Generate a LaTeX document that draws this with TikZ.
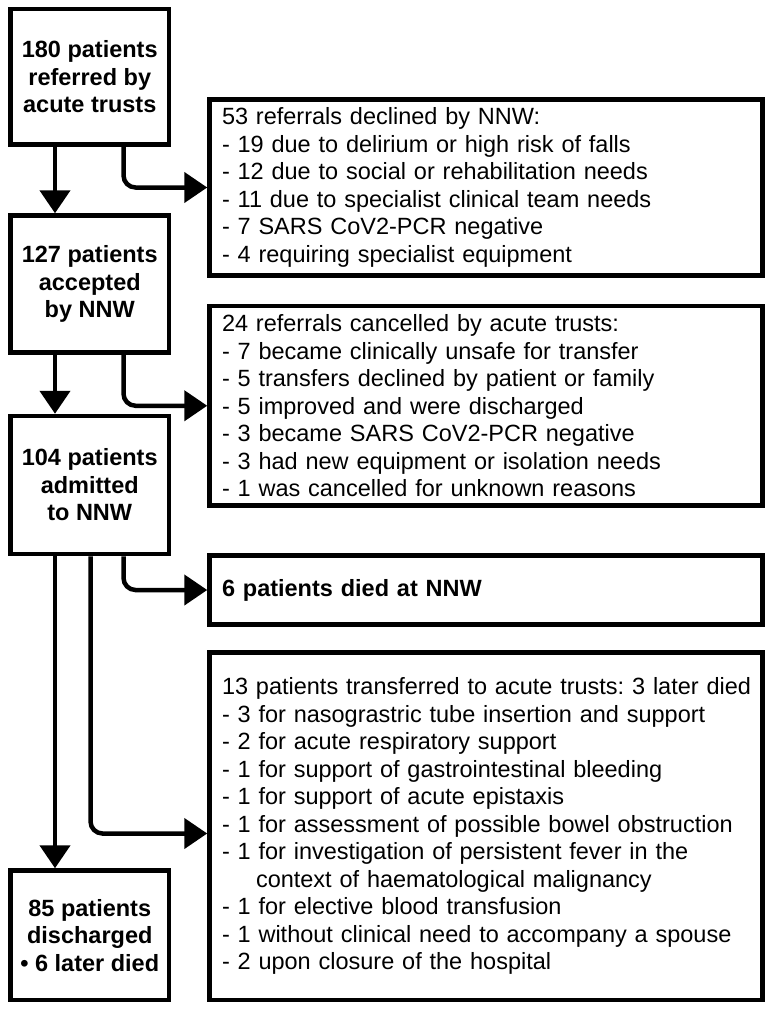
\documentclass[tikz,border=0pt]{standalone}
\usepackage{fontspec}
\setmainfont{Liberation Sans}
\usetikzlibrary{arrows.meta}
\frenchspacing
\begin{document}
\begin{tikzpicture}[x=1pt,y=-1pt,
  box/.style={draw, line width=4.5pt, inner sep=0pt},
  lbox/.style={box, minimum width=158.5pt, align=center, font=\bfseries\fontsize{23.5}{27.5}\selectfont},
  rbox/.style={box, minimum width=553pt, inner xsep=12.5pt, text width=528pt, align=left, font=\frenchspacing\fontsize{23.5}{27.5}\selectfont},
  arr/.style={line width=4.5pt, -{Triangle[width=30pt,length=23pt]}},
  bendarr/.style={arr, rounded corners=12pt}]
\useasboundingbox (0,0) rectangle (772,1015);
% left column
\node[lbox, minimum height=135.5pt] (b1) at (89.75,76.75) {180 patients\\referred by\\acute trusts};
\node[lbox, minimum height=137pt] (b3) at (89.75,284) {127 patients\\accepted\\by NNW};
\node[lbox, minimum height=138pt] (b5) at (89.75,485) {104 patients\\admitted\\to NNW};
\node[lbox, minimum height=129.5pt] (b8) at (89.75,935.25) {85 patients\\discharged\\• 6 later died};
% right column
\node[rbox, minimum height=176pt] (b2) at (486,187.5) {53 referrals declined by NNW:\\
- 19 due to delirium or high risk of falls\\
- 12 due to social or rehabilitation needs\\
- 11 due to specialist clinical team needs\\
- 7 SARS CoV2-PCR negative\\
- 4 requiring specialist equipment};
\node[rbox, minimum height=199.5pt] (b4) at (486,405.75) {24 referrals cancelled by acute trusts:\\
- 7 became clinically unsafe for transfer\\
- 5 transfers declined by patient or family\\
- 5 improved and were discharged\\
- 3 became SARS CoV2-PCR negative\\
- 3 had new equipment or isolation needs\\
- 1 was cancelled for unknown reasons};
\node[rbox, minimum height=69pt, font=\bfseries\fontsize{23.5}{27.5}\selectfont] (b6) at (486,590) {6 patients died at NNW};
\node[rbox, minimum height=347.5pt] (b7) at (486,826.25) {\makebox[0pt][l]{13 patients transferred to acute trusts: 3 later died}\\
- 3 for nasograstric tube insertion and support\\
- 2 for acute respiratory support\\
- 1 for support of gastrointestinal bleeding\\
- 1 for support of acute epistaxis\\
- 1 for assessment of possible bowel obstruction\\
- 1 for investigation of persistent fever in the\\
\hspace*{34pt}context of haematological malignancy\\
- 1 for elective blood transfusion\\
- 1 without clinical need to accompany a spouse\\
- 2 upon closure of the hospital};
% guide coordinates
\coordinate (xa) at (55,0);
\coordinate (xb) at (123.5,0);
\coordinate (xc) at (90.5,0);
\coordinate (y7) at (0,833.5);
% connectors
\draw[arr] (b1.south -| xa) -- (b3.north -| xa);
\draw[bendarr] (b1.south -| xb) |- (b2.west);
\draw[arr] (b3.south -| xa) -- (b5.north -| xa);
\draw[bendarr] (b3.south -| xb) |- (b4.west);
\draw[bendarr] (b5.south -| xb) |- (b6.west);
\draw[bendarr] (b5.south -| xc) |- (b7.west |- y7);
\draw[arr] (b5.south -| xa) -- (b8.north -| xa);
\end{tikzpicture}
\end{document}
